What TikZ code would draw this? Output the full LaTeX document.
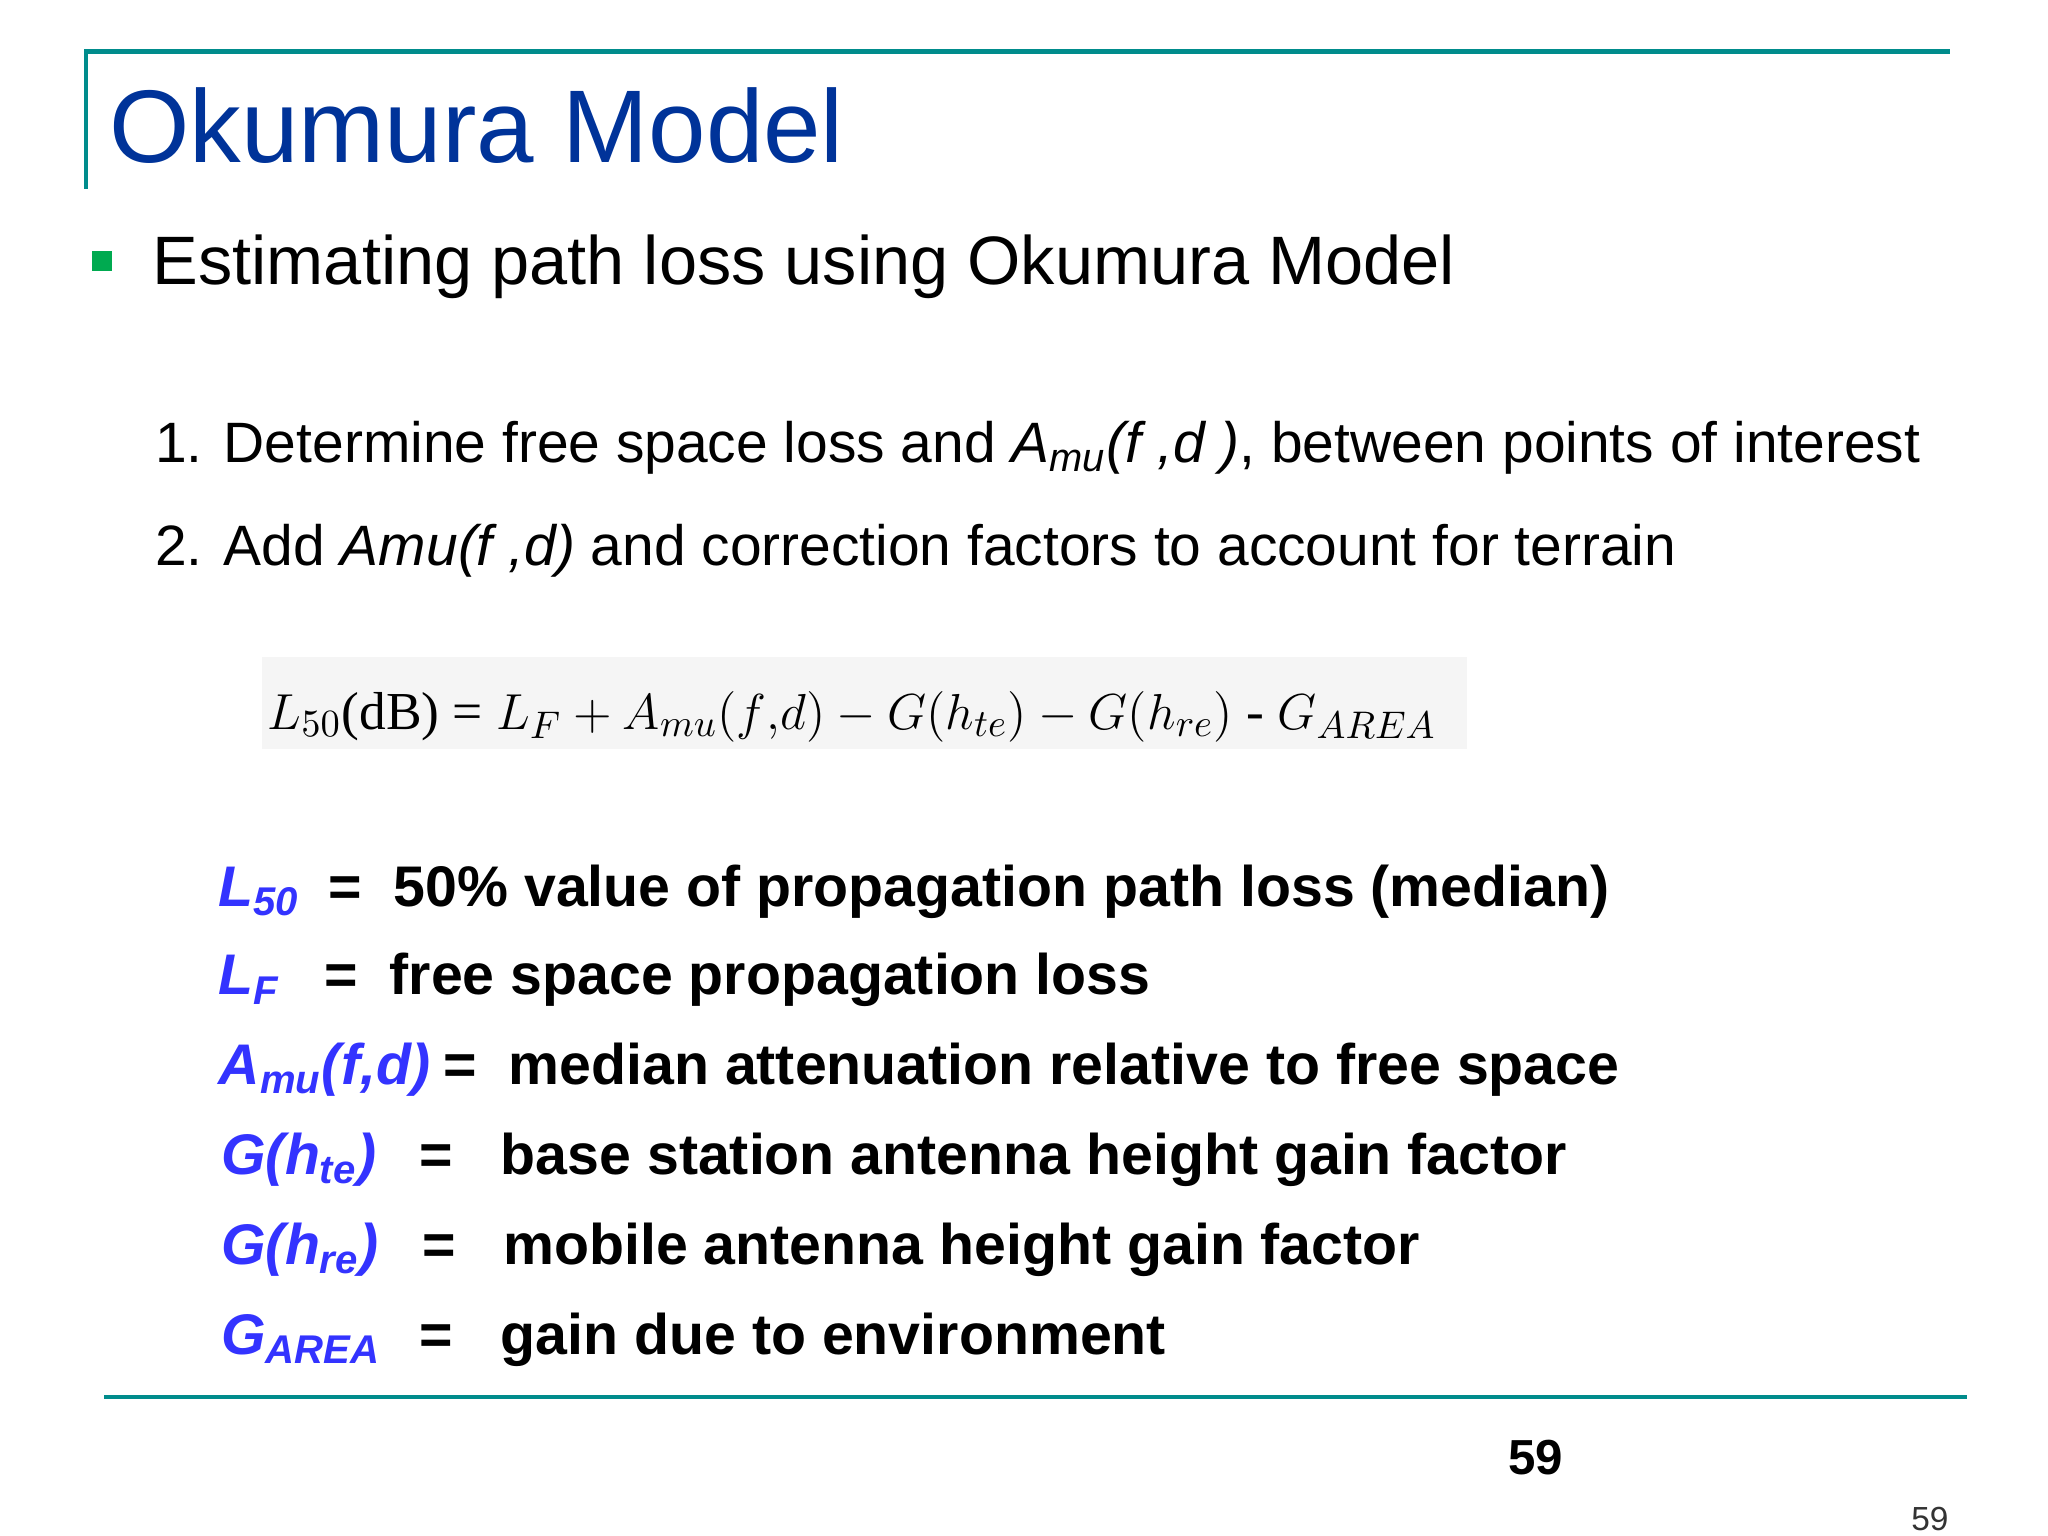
\documentclass[tikz,border=0pt]{standalone}
\usepackage{fontspec}
\setmainfont{Liberation Sans}
\newfontfamily\serif{Liberation Serif}
\definecolor{teal1}{RGB}{0,140,140}
\definecolor{tblue}{RGB}{0,51,153}
\definecolor{lblue}{RGB}{51,51,255}
\definecolor{bgreen}{RGB}{0,170,80}
\begin{document}
\begin{tikzpicture}[x=0.013214cm,y=-0.013214cm,
  t/.style={anchor=base west,inner sep=0pt},
  lab/.style={t,text=lblue,font=\fontsize{16.3}{20}\selectfont\bfseries\itshape},
  def/.style={t,font=\fontsize{16.3}{20}\selectfont\bfseries}]
\useasboundingbox (0,0) rectangle (1550,1162.5);
\draw[teal1,line width=1.2pt] (65,143) -- (65,39) -- (1476,39);
\draw[teal1,line width=1.2pt] (79,1057) -- (1489,1057);
\node[t,text=tblue,font=\fontsize{29.4}{36}\selectfont] (title) at (82,123) {Okumura Model};
\fill[bgreen] (70,190) rectangle (85,205);
\node[t,font=\fontsize{19.5}{24}\selectfont] (sub) at (115,215) {Estimating path loss using Okumura Model};
\node[t,font=\fontsize{16.2}{20}\selectfont] (l1) at (117,350) {1. Determine free space loss and \textit{A\textsubscript{mu}(f ,d )}, between points of interest};
\node[t,font=\fontsize{16.2}{20}\selectfont] (l2) at (117,428) {2. Add \textit{Amu(f ,d)} and correction factors to account for terrain};
\fill[black!4] (198,497) rectangle (1110,567);
\node[t,font=\fontsize{15.2}{18}\selectfont\serif] (eq) at (202,552) {$L_{50}$(dB) = $L_F + A_{mu}(f{,}d) - G(h_{te}) - G(h_{re})$ - $G_{AREA}$};
\node[lab] (a1) at (165,686) {L\textsubscript{50}};
\node[def] (b1) at (248,686) {=\ \ 50\% value of propagation path loss (median)};
\node[lab] (a2) at (165,753) {L\textsubscript{F}};
\node[def] (b2) at (245,753) {=\ \ free space propagation loss};
\node[lab] (a3) at (165,821) {A\textsubscript{mu}(f,d)};
\node[def] (b3) at (335,821) {=\ \ median attenuation relative to free space};
\node[lab] (a4) at (167,889) {G(h\textsubscript{te})};
\node[def] (b4) at (317,889) {=\ \ \ base station antenna height gain factor};
\node[lab] (a5) at (167,957) {G(h\textsubscript{re})};
\node[def] (b5) at (319,957) {=\ \ \ mobile antenna height gain factor};
\node[lab] (a6) at (167,1025) {G\textsubscript{AREA}};
\node[def] (b6) at (317,1025) {=\ \ \ gain due to environment};
\node[t,font=\fontsize{14}{16}\selectfont\bfseries] (p1) at (1141,1116) {59};
\node[t,font=\fontsize{9.5}{11}\selectfont,text=black!80] (p2) at (1446,1158) {59};
\end{tikzpicture}
\end{document}
